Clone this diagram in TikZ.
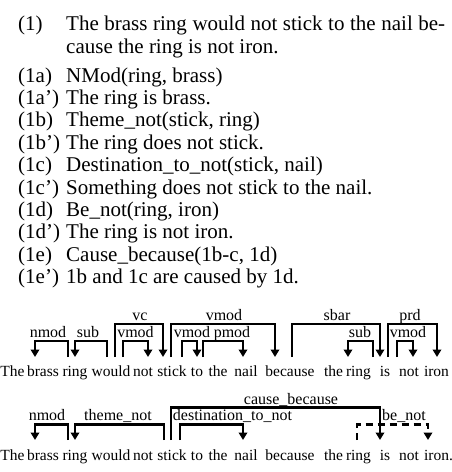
\documentclass[tikz,border=0pt]{standalone}
\usepackage{fontspec}
\setmainfont{Liberation Serif}
\usetikzlibrary{arrows.meta}
\tikzset{
  dep/.style={line width=2.2pt, line join=miter, -{Triangle[length=7.5pt,width=8.5pt]}},
  depdash/.style={dep, dash pattern=on 7pt off 5pt},
  lbl/.style={font=\fontsize{16}{16}\selectfont, inner sep=0pt, anchor=base},
  word/.style={font=\fontsize{15.5}{15.5}\selectfont, inner sep=0pt, anchor=base},
  lst/.style={font=\fontsize{21}{22}\selectfont, inner sep=0pt, anchor=base west},
}
\newcommand\deparc[4][dep]{\draw[#1] (#2) -- (#2 |- #4) -- (#3 |- #4) -- (#3);}
\begin{document}
\begin{tikzpicture}[x=1pt,y=-1pt]
\useasboundingbox (0,0) rectangle (452,472);
% ---- list text ----
\node[lst] (n1) at (18,30) {(1)};
\node[lst] (t1) at (66,30) {\makebox[379pt][s]{The brass ring would not stick to the nail be-}};
\node[lst] (t1b) at (66,53) {cause the ring is not iron.};
\node[lst] (n1a) at (18,82) {(1a)};
\node[lst] (t1a) at (66,82) {NMod(ring, brass)};
\node[lst] (n1ap) at (18,104.4) {(1a’)};
\node[lst] (t1ap) at (66,104.4) {The ring is brass.};
\node[lst] (n1b) at (18,126.8) {(1b)};
\node[lst] (t1bb) at (66,126.8) {Theme\_not(stick, ring)};
\node[lst] (n1bp) at (18,149.2) {(1b’)};
\node[lst] (t1bp) at (66,149.2) {The ring does not stick.};
\node[lst] (n1c) at (18,171.6) {(1c)};
\node[lst] (t1c) at (66,171.6) {Destination\_to\_not(stick, nail)};
\node[lst] (n1cp) at (18,194) {(1c’)};
\node[lst] (t1cp) at (66,194) {Something does not stick to the nail.};
\node[lst] (n1d) at (18,216.4) {(1d)};
\node[lst] (t1d) at (66,216.4) {Be\_not(ring, iron)};
\node[lst] (n1dp) at (18,238.8) {(1d’)};
\node[lst] (t1dp) at (66,238.8) {The ring is not iron.};
\node[lst] (n1e) at (18,261.2) {(1e)};
\node[lst] (t1e) at (66,261.2) {Cause\_because(1b-c, 1d)};
\node[lst] (n1ep) at (18,283.6) {(1e’)};
\node[lst] (t1ep) at (66,283.6) {1b and 1c are caused by 1d.};

% ---- diagram 1: words ----
\node[word,anchor=base west] (a1) at (0.3,376) {The};
\foreach \w/\x/\n in {brass/43/a2,ring/75/a3,would/111/a4,not/143/a5,stick/172/a6,to/197/a7,the/218/a8,nail/246/a9,because/290/a10,the/333.5/a11,ring/358.5/a12,is/385/a13,not/409/a14,iron/436.5/a15}
  \node[word] (\n) at (\x,376) {\w};
\coordinate (Ahi) at (0,324);
\coordinate (Alo) at (0,341);
\foreach \n/\x in {p35/35,p68/68,p75/75,p107/107,p115/115,p123/123,p148/148,p163/163,p171/171,p182/182,p197/197,p203/203,p243/243,p275/275,p292/292,p348/348,p373/373,p380/380,p388/388,p397/397,p413/413,p437/437}
  \coordinate (A\n) at (\x,357);
\deparc{Ap68}{Ap35}{Alo}
\deparc{Ap107}{Ap75}{Alo}
\deparc{Ap115}{Ap163}{Ahi}
\deparc{Ap123}{Ap148}{Alo}
\deparc{Ap171}{Ap275}{Ahi}
\deparc{Ap182}{Ap197}{Alo}
\deparc{Ap203}{Ap243}{Alo}
\deparc{Ap292}{Ap380}{Ahi}
\deparc{Ap373}{Ap348}{Alo}
\deparc{Ap388}{Ap437}{Ahi}
\deparc{Ap397}{Ap413}{Alo}
\node[lbl] (la1) at (48,337.5) {nmod};
\node[lbl] (la2) at (88,337.5) {sub};
\node[lbl] (la3) at (140,320.5) {vc};
\node[lbl] (la4) at (135.5,337.5) {vmod};
\node[lbl] (la5) at (224,320.5) {vmod};
\node[lbl] (la6) at (192,337.5) {vmod};
\node[lbl] (la7) at (232,337.5) {pmod};
\node[lbl] (la8) at (337,320.5) {sbar};
\node[lbl] (la9) at (360,337.5) {sub};
\node[lbl] (la10) at (410,320.5) {prd};
\node[lbl] (la11) at (408,337.5) {vmod};

% ---- diagram 2: words ----
\node[word,anchor=base west] (b1) at (0.3,460) {The};
\foreach \w/\x/\n in {brass/43/b2,ring/75/b3,would/111/b4,not/143/b5,stick/172/b6,to/197/b7,the/218/b8,nail/246/b9,because/290/b10,the/333.5/b11,ring/358.5/b12,is/385/b13,not/409/b14,iron./438.5/b15}
  \node[word] (\n) at (\x,460) {\w};
\coordinate (Bhi) at (0,407.5);
\coordinate (Blo) at (0,424.5);
\foreach \n/\x in {p35/35,p68/68,p75/75,p164/164,p171/171,p180/180,p243/243,p357/357,p380/380,p428/428}
  \coordinate (B\n) at (\x,440);
\deparc{Bp68}{Bp35}{Blo}
\deparc{Bp164}{Bp75}{Blo}
\deparc{Bp171}{Bp380}{Bhi}
\deparc{Bp180}{Bp243}{Blo}
\deparc[depdash]{Bp357}{Bp428}{Blo}
\node[lbl] (lb1) at (47,420.5) {nmod};
\node[lbl] (lb2) at (118,420.5) {theme\_not};
\node[lbl] (lb3) at (291,404) {cause\_because};
\node[lbl] (lb4) at (232.5,420.5) {destination\_to\_not};
\node[lbl] (lb5) at (404,420.5) {be\_not};
\end{tikzpicture}
\end{document}
